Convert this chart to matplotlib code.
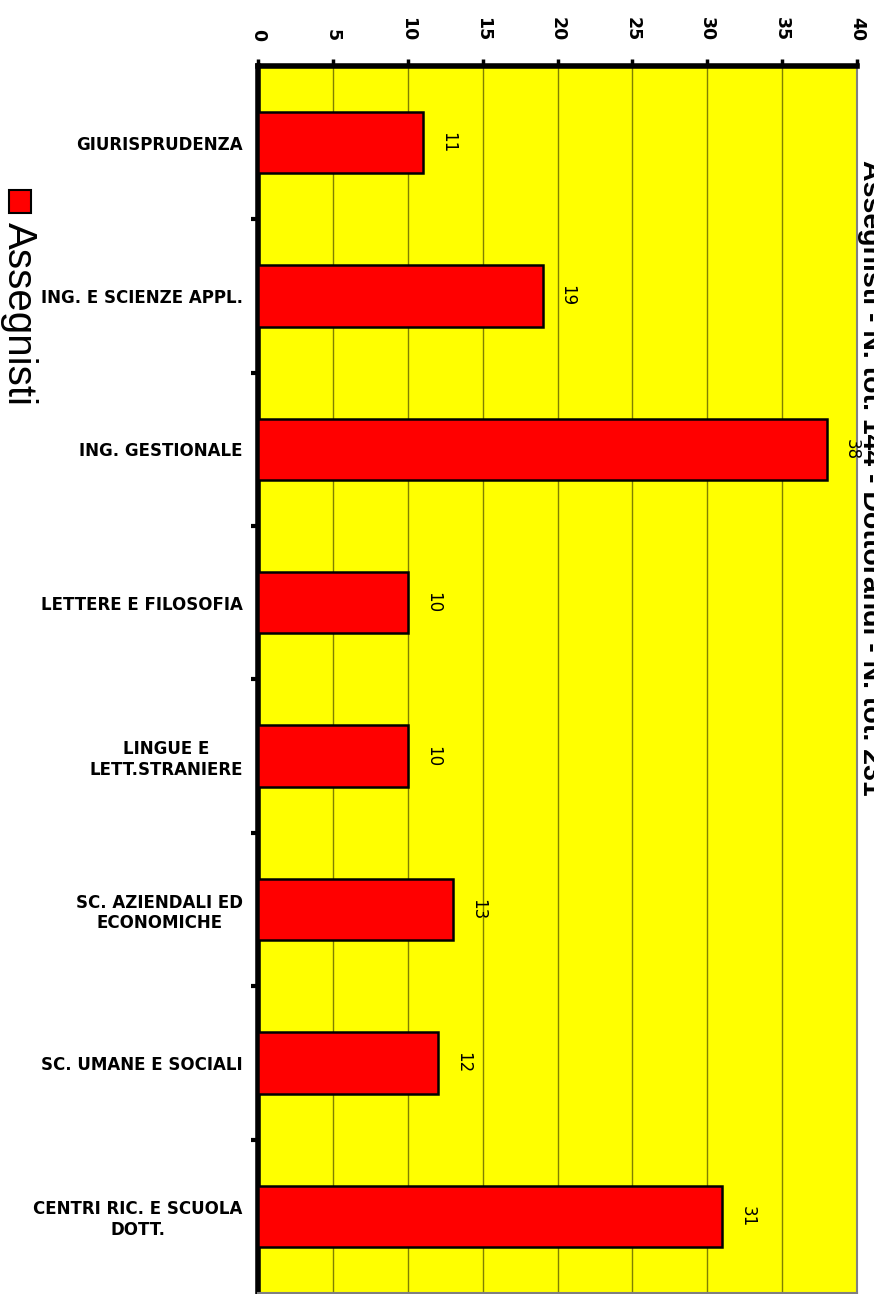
import matplotlib.pyplot as plt
from matplotlib.patches import Rectangle

# dati del grafico
categorie = ['GIURISPRUDENZA', 'ING. E SCIENZE APPL.', 'ING. GESTIONALE',
             'LETTERE E FILOSOFIA', 'LINGUE E\nLETT.STRANIERE',
             'SC. AZIENDALI ED\nECONOMICHE', 'SC. UMANE E SOCIALI',
             'CENTRI RIC. E SCUOLA\nDOTT.']
assegnisti = [11, 19, 38, 10, 10, 13, 12, 31]
tick_valori = [0, 5, 10, 15, 20, 25, 30, 35, 40]
titolo = 'Assegnisti - N. tot. 144 - Dottorandi - N. tot. 231'
legenda = 'Assegnisti'

fig = plt.figure(figsize=(8.74, 12.94), dpi=100)
ax = fig.add_axes([258 / 874, 0.0008, (857 - 258) / 874, (1293 - 66) / 1294])
ax.set_facecolor('#FFFF00')

pos = list(range(len(categorie)))
ax.barh(pos, assegnisti, height=0.4, color='#FF0000', edgecolor='black',
        linewidth=1.8, zorder=3)

ax.set_xlim(0, 40)
ax.set_ylim(len(categorie) - 0.5, -0.5)

# asse dei valori in alto
ax.xaxis.tick_top()
ax.set_xticks(tick_valori)
ax.set_xticklabels([str(v) for v in tick_valori], rotation=-90,
                   fontsize=12.5, fontweight='bold')
ax.tick_params(axis='x', length=5, width=2.5, pad=13)
ax.grid(axis='x', color='#808000', linewidth=1, zorder=1)

# categorie
ax.set_yticks([p + 0.5 for p in pos[:-1]], minor=True)
ax.set_yticks(pos)
ax.set_yticklabels(categorie, fontsize=12, fontweight='bold',
                   multialignment='center')
ax.tick_params(axis='y', which='major', length=0, pad=11)
ax.tick_params(axis='y', which='minor', length=5, width=3)

for s in ['top', 'left']:
    ax.spines[s].set_linewidth(4)
    ax.spines[s].set_color('black')
for s in ['right', 'bottom']:
    ax.spines[s].set_linewidth(1.5)
    ax.spines[s].set_color('#808080')

# etichette dei valori
for p, v in zip(pos, assegnisti):
    ax.annotate(str(v), (v, p), xytext=(18, 0), textcoords='offset points',
                rotation=-90, fontsize=12, ha='center', va='center')

# titolo ruotato, tagliato sul bordo destro
fig.text(857 / 874, 1 - 160 / 1294, titolo, rotation=-90, fontsize=20.5,
         fontweight='bold', family='Liberation Sans', ha='left', va='top')

# legenda
fig.patches.append(Rectangle((9 / 874, 1 - 213 / 1294), 22 / 874, 23 / 1294,
                             transform=fig.transFigure, facecolor='#FF0000',
                             edgecolor='black', linewidth=1.5))
fig.text(19 / 874, 1 - 222 / 1294, legenda, rotation=-90, fontsize=29,
         family='Liberation Sans', ha='center', va='top')

fig.savefig('out.png', dpi=100)
